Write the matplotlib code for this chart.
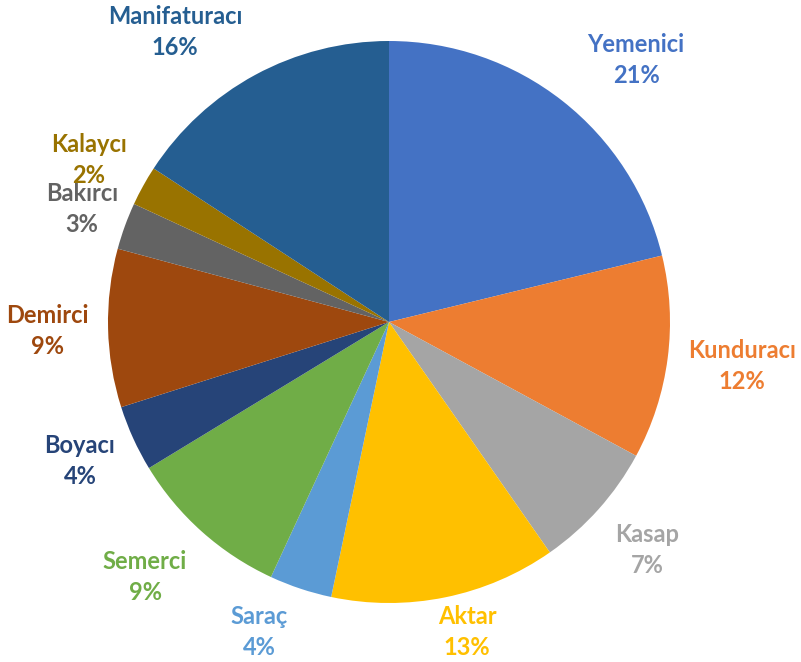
import matplotlib.pyplot as plt

# meslek dağılımı (saat yönünde, tepeden başlayarak)
meslekler = ['Yemenici', 'Kunduracı', 'Kasap', 'Aktar', 'Saraç', 'Semerci',
             'Boyacı', 'Demirci', 'Bakırcı', 'Kalaycı', 'Manifaturacı']
oranlar = [21.2, 11.7, 7.4, 13.0, 3.6, 9.4, 3.8, 9.1, 2.7, 2.3, 15.8]
renkler = ['#4472C4', '#ED7D31', '#A5A5A5', '#FFC000', '#5B9BD5', '#70AD47',
           '#264478', '#9E480E', '#636363', '#997300', '#255E91']

# etiket merkezleri (piksel, sol üstten)
etiket_yer = [(636, 60), (742, 366), (647, 550), (467, 632), (259, 632),
              (145, 577), (80, 461), (47, 331), (82, 209), (89, 160), (175, 32)]

W, H = 801, 662
fig = plt.figure(figsize=(W / 100, H / 100), dpi=100)
ax = fig.add_axes([0, 0, 1, 1])

ax.pie(oranlar, colors=renkler, startangle=90, counterclock=False,
       center=(389, H - 322), radius=281, frame=True,
       wedgeprops={'linewidth': 0})
ax.set_xlim(0, W)
ax.set_ylim(0, H)
ax.set_aspect('equal')
ax.axis('off')

toplam = sum(oranlar)
for ad, v, c, (px, py) in zip(meslekler, oranlar, renkler, etiket_yer):
    ax.text(px, H - py, f'{ad}\n{round(v / toplam * 100)}%', color=c,
            ha='center', va='center', fontsize=17, fontweight='bold',
            family='Lato', linespacing=1.4)

plt.savefig('out.png', dpi=100)
